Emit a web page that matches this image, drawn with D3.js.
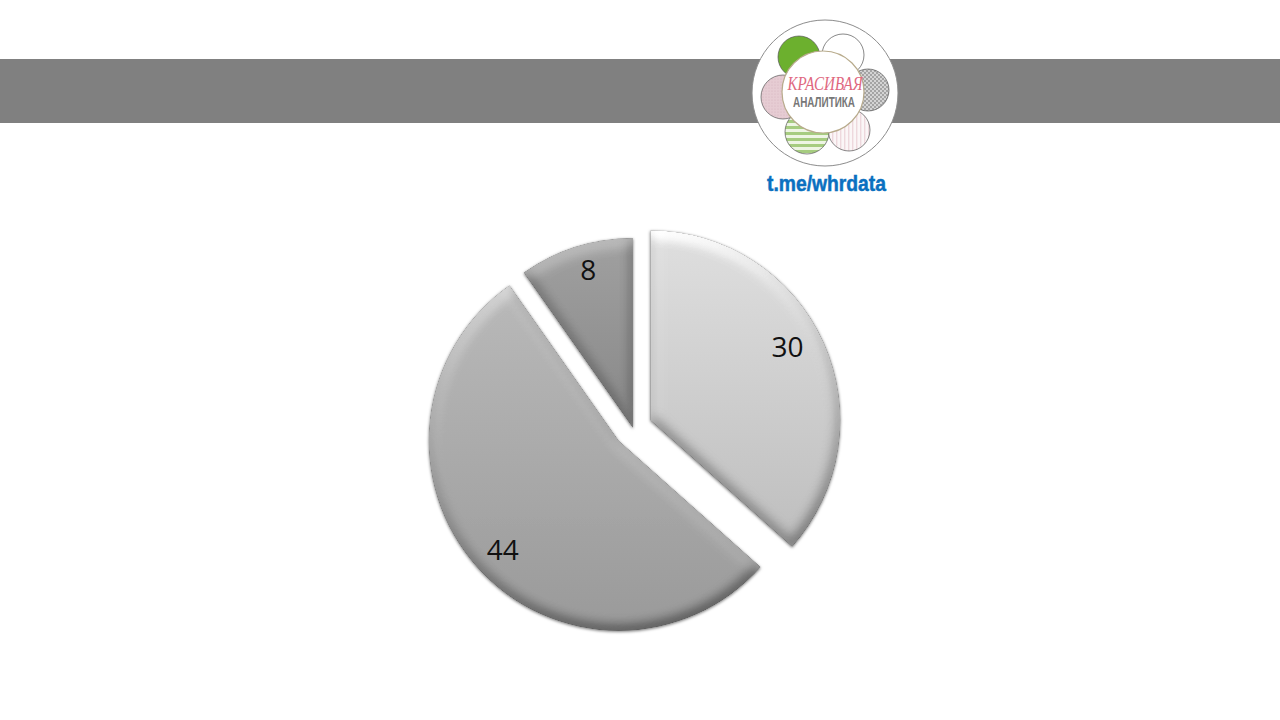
<!DOCTYPE html>
<html><head><meta charset="utf-8">
<script src="https://cdn.jsdelivr.net/npm/d3@7"></script>
<style>html,body{margin:0;padding:0;background:#fff}svg{display:block}</style>
</head><body><svg id="c" width="1280" height="720"></svg>
<script>
const sliceNames = ["A","B","C"];
const sliceValues = [30,44,8];
const sliceTopColors = ["#dedede","#b8b8b8","#a0a0a0"];
const sliceBottomColors = ["#bdbdbd","#9a9a9a","#888888"];
const explodeDistances = [19,19,0];
const labelNudges = [[-7,-10],[2,3],[3,-8]];

const svg = d3.select("#c");
const defs = svg.append("defs");
const W=1280,H=720, cx=633, cy=428, R=190, labelR=158;

// Bevel + soft outline
const f = defs.append("filter").attr("id","bevel").attr("x","-15%").attr("y","-15%").attr("width","130%").attr("height","130%")
  .attr("color-interpolation-filters","sRGB");
f.append("feGaussianBlur").attr("in","SourceAlpha").attr("stdDeviation",7).attr("result","h");
const dl=f.append("feDiffuseLighting").attr("in","h").attr("surfaceScale",4).attr("diffuseConstant",0.92)
  .attr("lighting-color","#fff").attr("result","lit");
dl.append("feDistantLight").attr("azimuth",255).attr("elevation",60);
f.append("feComposite").attr("in","lit").attr("in2","SourceGraphic").attr("operator","arithmetic")
  .attr("k1",1.26).attr("k2",0).attr("k3",0).attr("k4",0).attr("result","shaded");
f.append("feComposite").attr("in","shaded").attr("in2","SourceAlpha").attr("operator","in").attr("result","body");
f.append("feGaussianBlur").attr("in","SourceAlpha").attr("stdDeviation",1.4).attr("result","sb");
f.append("feOffset").attr("in","sb").attr("dx",0).attr("dy",0.6).attr("result","so");
f.append("feFlood").attr("flood-color","#000").attr("flood-opacity",0.55).attr("result","fc");
f.append("feComposite").attr("in","fc").attr("in2","so").attr("operator","in").attr("result","shadow");
const m=f.append("feMerge");
m.append("feMergeNode").attr("in","shadow");
m.append("feMergeNode").attr("in","body");

sliceValues.forEach((v,i)=>{
  const g=defs.append("linearGradient").attr("id","g"+i).attr("x1",0).attr("y1",0).attr("x2",0).attr("y2",1);
  g.append("stop").attr("offset",0).attr("stop-color",sliceTopColors[i]);
  g.append("stop").attr("offset",1).attr("stop-color",sliceBottomColors[i]);
});

// Header band
svg.append("rect").attr("x",0).attr("y",59).attr("width",W).attr("height",64).attr("fill","#808080");

// Pie
const pie=d3.pie().sort(null).value(d=>d);
const arc=d3.arc().innerRadius(0).outerRadius(R);
const labelArc=d3.arc().innerRadius(labelR).outerRadius(labelR);
const arcs=pie(sliceValues);
const offset=(d,i)=>{const a=(d.startAngle+d.endAngle)/2;return [Math.sin(a)*explodeDistances[i],-Math.cos(a)*explodeDistances[i]];};
const gp=svg.append("g").attr("transform",`translate(${cx},${cy})`);
gp.selectAll("path").data(arcs).join("path")
  .attr("d",arc)
  .attr("transform",(d,i)=>`translate(${offset(d,i)})`)
  .attr("fill",(d,i)=>`url(#g${i})`)
  .attr("filter","url(#bevel)");
gp.selectAll("text").data(arcs).join("text")
  .attr("transform",(d,i)=>{const o=offset(d,i),c=labelArc.centroid(d),n=labelNudges[i];return `translate(${o[0]+c[0]+n[0]},${o[1]+c[1]+n[1]})`;})
  .attr("text-anchor","middle").attr("dominant-baseline","central")
  .style("font-family","'Open Sans'").style("font-size","28px").attr("fill","#111")
  .text(d=>d.data);

// Logo patterns
function pat(id,w,h,bg,draw){
  const p=defs.append("pattern").attr("id",id).attr("patternUnits","userSpaceOnUse").attr("width",w).attr("height",h);
  p.append("rect").attr("width",w).attr("height",h).attr("fill",bg);
  draw(p);
}
pat("pCheck",4,4,"#d4d4d4",p=>{p.append("rect").attr("width",2).attr("height",2).attr("fill","#a4a4a4");p.append("rect").attr("x",2).attr("y",2).attr("width",2).attr("height",2).attr("fill","#a4a4a4");});
pat("pPink",3,3,"#e6ccd3",p=>{p.append("circle").attr("cx",1).attr("cy",1).attr("r",.6).attr("fill","#d6b4bf");});
pat("pGreen",20,6,"#eef5e4",p=>{p.append("rect").attr("width",20).attr("height",3).attr("fill","#a6cc80");});
pat("pStripe",4,20,"#fbf6f7",p=>{p.append("rect").attr("width",1.4).attr("height",20).attr("fill","#eed8dd");});

const logo=svg.append("g");
logo.append("circle").attr("cx",825).attr("cy",93).attr("r",73).attr("fill","#fff").attr("stroke","#8c8c8c").attr("stroke-width",1);
const petal=(x,y,r,fill)=>logo.append("circle").attr("cx",x).attr("cy",y).attr("r",r).attr("fill",fill).attr("stroke","#555").attr("stroke-width",.7);
petal(799,57,21,"#6cb02e");
petal(843,55,21,"#fff");
petal(868,90,21,"url(#pCheck)");
petal(849,130,21,"url(#pStripe)");
petal(807,132,22,"url(#pGreen)");
petal(783,97,22,"url(#pPink)");
logo.append("circle").attr("cx",823).attr("cy",92).attr("r",41).attr("fill","#fff").attr("stroke","#b8ab8c").attr("stroke-width",1.2);
logo.append("text").attr("x",825).attr("y",90).attr("text-anchor","middle")
  .attr("font-family","'Liberation Serif', serif").attr("font-style","italic").attr("font-size",18)
  .attr("textLength",75).attr("lengthAdjust","spacingAndGlyphs").attr("fill","#e0687f").text("КРАСИВАЯ");
logo.append("text").attr("x",824).attr("y",107).attr("text-anchor","middle")
  .attr("font-family","'Liberation Sans', sans-serif").attr("font-weight","bold").attr("font-size",14)
  .attr("textLength",62).attr("lengthAdjust","spacingAndGlyphs").attr("fill","#777").text("АНАЛИТИКА");
logo.append("text").attr("x",767).attr("y",191).attr("font-family","'Liberation Sans Narrow','Liberation Sans',sans-serif")
  .attr("font-weight","bold").attr("font-size",22).attr("textLength",119).attr("lengthAdjust","spacingAndGlyphs")
  .attr("fill","#0a70c0").attr("stroke","#0a70c0").attr("stroke-width",.5).text("t.me/whrdata");
</script></body></html>
